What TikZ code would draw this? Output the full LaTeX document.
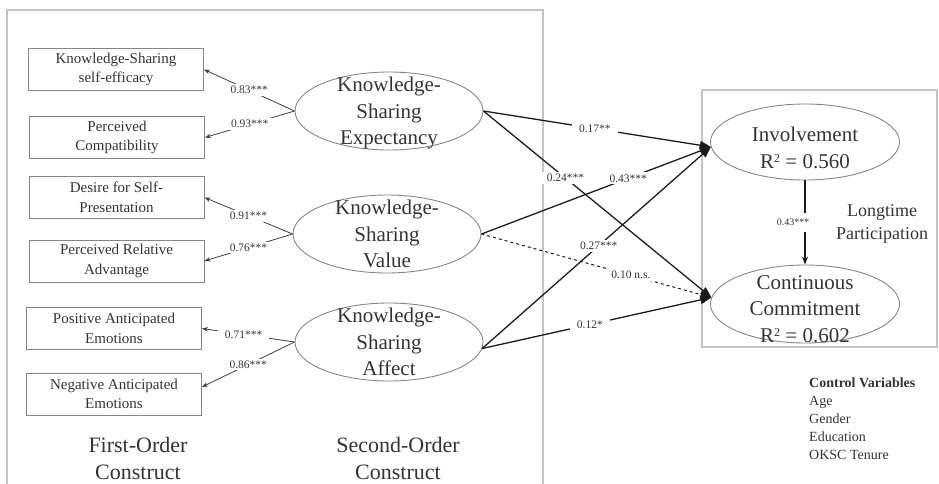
\documentclass[tikz,border=0pt]{standalone}
\usepackage{fontspec}
\setmainfont{Liberation Serif}
\usetikzlibrary{shapes.geometric,arrows.meta,calc}

\definecolor{txt}{HTML}{333333}
\definecolor{frame}{HTML}{C4C4C4}
\definecolor{edge}{HTML}{858585}
\definecolor{ink}{HTML}{1C1C1C}

% R squared with a small raised 2
\newcommand{\rsq}{R\raisebox{0.62ex}{\fontsize{12}{12}\selectfont 2}}

\begin{document}
\begin{tikzpicture}[x=1pt,y=-1pt,
  indicator/.style={draw=edge, line width=0.9pt, minimum width=175pt, minimum height=42pt,
    inner sep=0pt, align=center, text=txt, font=\fontsize{15}{19.5}\selectfont},
  construct/.style={draw=edge, line width=0.9pt, ellipse, minimum width=188pt,
    minimum height=78pt, inner sep=0pt},
  ctext/.style={text=txt, align=center, font=\fontsize{21}{26.5}\selectfont},
  caption/.style={text=txt, align=center, font=\fontsize{22}{27}\selectfont},
  loading/.style={-{Stealth[length=6pt,width=4.5pt]}, draw=ink!85, line width=0.8pt},
  effect/.style={-{Triangle[length=11pt,width=8.5pt]}, draw=ink, line width=1.3pt},
  coef/.style={fill=white, inner xsep=7pt, inner ysep=2pt, text=txt,
    font=\fontsize{11.5}{13}\selectfont},
  framebox/.style={draw=frame, line width=1.4pt}
]
\useasboundingbox (0,0) rectangle (939,484);

% outer frames
\draw[framebox] (7,490) -- (7,10) -- (543,10) -- (543,490);
\draw[framebox] (702,90) rectangle (937,347);

% first-order indicators
\node[indicator] (b1) at (116,69.5)  {Knowledge-Sharing\\self-efficacy};
\node[indicator] (b2) at (117,137.5) {Perceived\\Compatibility};
\node[indicator] (b3) at (116.5,197.5) {Desire for Self-\\Presentation};
\node[indicator] (b4) at (116.5,261) {Perceived Relative\\Advantage};
\node[indicator] (b5) at (114,328.5) {Positive Anticipated\\Emotions};
\node[indicator] (b6) at (114,394)   {Negative Anticipated\\Emotions};

% second-order constructs
\node[construct] (e1) at (389,111) {};
\node[construct] (e2) at (387,234) {};
\node[construct] (e3) at (389,342) {};
\node[ctext] (e1t) at (389,113) {Knowledge-\\Sharing\\Expectancy};
\node[ctext] (e2t) at (e2.center) {Knowledge-\\Sharing\\Value};
\node[ctext] (e3t) at (e3.center) {Knowledge-\\Sharing\\Affect};

% outcomes
\node[construct, minimum width=189pt, minimum height=76pt] (iv) at (805,142) {};
\node[construct, minimum width=189pt, minimum height=78pt] (cc) at (805,304) {};
\node[ctext] (ivt) at (805,148) {Involvement\\\rsq{} = 0.560};
\node[ctext] (cct) at (805,309) {Continuous\\Commitment\\\rsq{} = 0.602};

% loadings
\draw[loading] (e1.west) -- node[coef] {0.83***} (b1.east);
\draw[loading] (e1.west) -- node[coef] {0.93***} (b2.east);
\draw[loading] (e2.west) -- node[coef] {0.91***} (b3.east);
\draw[loading] (e2.west) -- node[coef] {0.76***} (b4.east);
\draw[loading] (e3.west) -- node[coef, pos=0.55] {0.71***} (b5.east);
\draw[loading] (e3.west) -- node[coef] {0.86***} ([yshift=7pt]b6.east);

% structural paths
\draw[effect] (e1.east) -- node[coef, pos=0.49] {0.17**} (iv.183);
\draw[effect] (e1.east) -- node[coef, pos=0.36] {0.24***} (cc.176);
\draw[effect] (e2.east) -- node[coef, pos=0.64] {0.43***} (iv.183);
\draw[effect] (e3.356) -- node[coef, pos=0.51] {0.27***} (iv.183);
\draw[effect, dashed, line width=1pt] (e2.east) -- node[coef, pos=0.65] {0.10 n.s.} (cc.176);
\draw[effect] (e3.356) -- node[coef, pos=0.47] {0.12*} (cc.176);

% longtime participation
\draw[-{Stealth[length=8pt,width=6pt]}, draw=ink, line width=1.1pt] (iv.south) --
  node[coef, inner ysep=6pt, xshift=-12pt, font=\fontsize{10}{12}\selectfont] {0.43***} (cc.north);
\node[text=txt, align=center, font=\fontsize{18}{23}\selectfont] (lp) at (882,224)
  {Longtime\\Participation};

% captions
\node[caption] (fo) at (138,458) {First-Order\\Construct};
\node[caption] (so) at (398,458) {Second-Order\\Construct};

% control variables
\node[text=txt, align=left, anchor=north west, inner sep=0pt,
  font=\fontsize{14}{18}\selectfont] (cv) at (809,378)
  {\textbf{Control Variables}\\Age\\Gender\\Education\\OKSC Tenure};
\end{tikzpicture}
\end{document}
